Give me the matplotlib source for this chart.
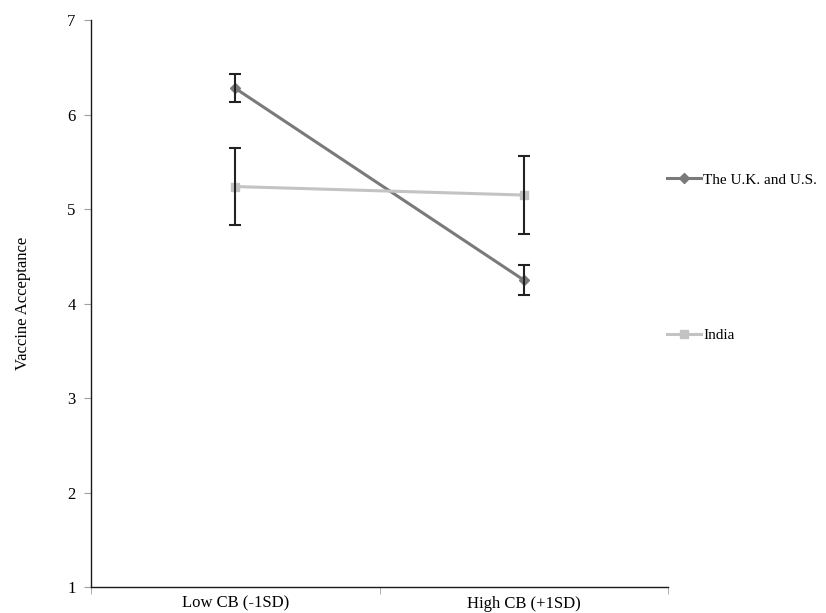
import numpy as np
import matplotlib.pyplot as plt
from matplotlib.ticker import FixedLocator

plt.rcParams['font.family'] = ['Liberation Serif', 'DejaVu Serif']

categories = ['Low CB (-1SD)', 'High CB (+1SD)']
uk_us = [6.28, 4.25]
uk_us_err = [0.15, 0.16]
india = [5.24, 5.15]
india_err = [0.41, 0.41]
yticks = [1, 2, 3, 4, 5, 6, 7]

fig = plt.figure(figsize=(8.26, 6.13), dpi=100)
ax = fig.add_axes([0.110, 0.042, 0.699, 0.925])

x = np.arange(len(categories))
ax.plot(x, uk_us, color='#7a7a7a', lw=2.2, marker='D', ms=5, label='The U.K. and U.S.', zorder=3)
ax.plot(x, india, color='#c3c3c3', lw=2.2, marker='s', ms=6, label='India', zorder=3)
ax.errorbar(x, uk_us, yerr=uk_us_err, fmt='none', ecolor='#222222', elinewidth=1.5, capsize=4, capthick=1.5, zorder=4)
ax.errorbar(x, india, yerr=india_err, fmt='none', ecolor='#222222', elinewidth=1.5, capsize=4, capthick=1.5, zorder=4)

ax.set_xlim(-0.5, 1.5)
ax.set_ylim(1, 7)
ax.set_yticks(yticks)
ax.set_xticks(x)
ax.set_xticklabels(categories, fontsize=12)
ax.xaxis.set_minor_locator(FixedLocator([-0.5, 0.5, 1.5]))
ax.tick_params(axis='x', which='major', length=0, pad=6)
ax.tick_params(axis='x', which='minor', length=5, color='#a0a0a0')
ax.tick_params(axis='y', length=5, color='#a0a0a0', labelsize=12, pad=6)
ax.set_ylabel('Vaccine Acceptance', fontsize=12, labelpad=26)

for side in ['top', 'right']:
    ax.spines[side].set_visible(False)
for side in ['left', 'bottom']:
    ax.spines[side].set_color('#1a1a1a')
    ax.spines[side].set_linewidth(1.0)

fig.legend(loc='upper left', bbox_to_anchor=(0.808, 0.718), frameon=False, fontsize=11,
           labelspacing=9.3, handlelength=2.2, handletextpad=0.15, borderaxespad=0, borderpad=0)

fig.savefig('out.png', dpi=100)
